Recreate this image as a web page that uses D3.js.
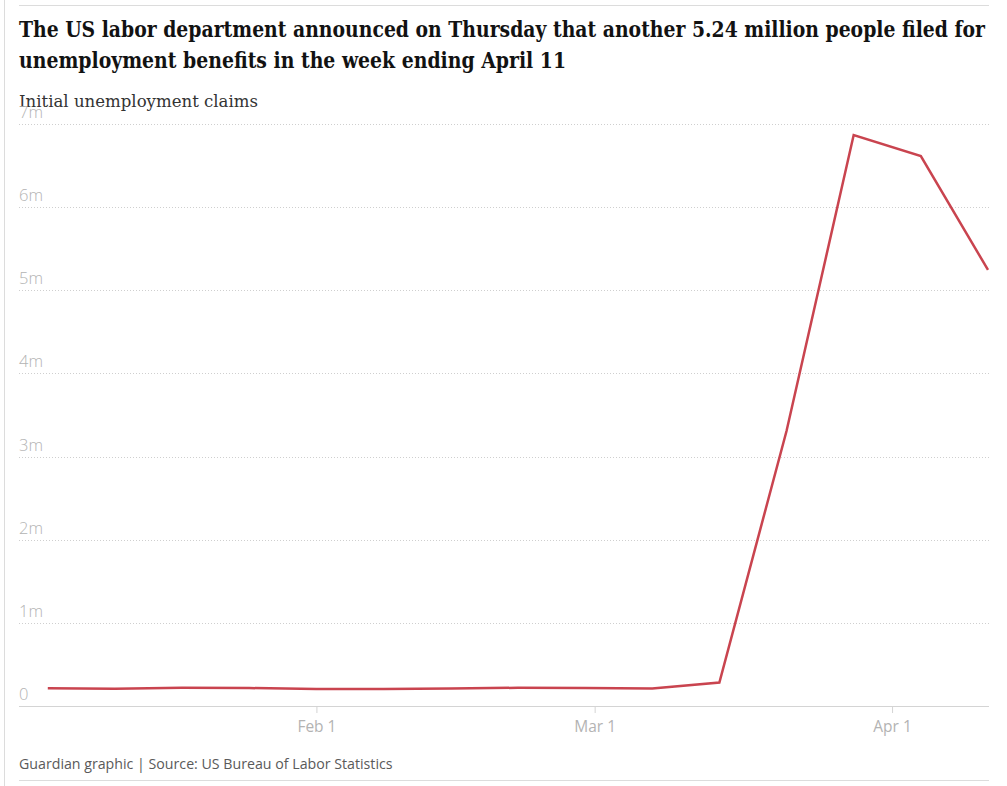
<!DOCTYPE html>
<html>
<head>
<meta charset="utf-8">
<script src="https://cdn.jsdelivr.net/npm/d3@7"></script>
<style>
  body { margin: 0; background: #fff; }
  svg { display: block; }
</style>
</head>
<body>
<div id="chart"></div>
<script>
// weekly initial claims, week ending dates (2020)
const weeks = ["2020-01-04", "2020-01-11", "2020-01-18", "2020-01-25", "2020-02-01", "2020-02-08",
  "2020-02-15", "2020-02-22", "2020-02-29", "2020-03-07", "2020-03-14", "2020-03-21",
  "2020-03-28", "2020-04-04", "2020-04-11"];
const claims = [212000, 207000, 220000, 216000, 203000, 205000, 211000, 219000, 217000,
  211000, 282000, 3307000, 6867000, 6615000, 5245000];
const yTicks = [0, 1e6, 2e6, 3e6, 4e6, 5e6, 6e6, 7e6];
const xTicks = ["2020-02-01", "2020-03-01", "2020-04-01"];

const titleLines = ["The US labor department announced on Thursday that another 5.24 million people filed for",
  "unemployment benefits in the week ending April 11"];
const subtitle = "Initial unemployment claims";
const source = "Guardian graphic | Source: US Bureau of Labor Statistics";

const width = 1007;
const height = 786;
const left = 19;
const right = 989;

const parse = d3.timeParse("%Y-%m-%d");
const data = weeks.map((w, i) => ({ date: parse(w), value: claims[i] }));

const x = d3.scaleTime()
  .domain([parse("2020-01-01"), parse("2020-04-11")])
  .range([left, right - 1]);

const y = d3.scaleLinear()
  .domain([0, 7e6])
  .range([706, 124]);

const svg = d3.select("#chart").append("svg")
  .attr("width", width)
  .attr("height", height);

// page frame lines
svg.append("line")
  .attr("x1", 4.5).attr("x2", 4.5).attr("y1", 0).attr("y2", height)
  .attr("stroke", "#dcdcdc");
svg.append("line")
  .attr("x1", left).attr("x2", right).attr("y1", 5.5).attr("y2", 5.5)
  .attr("stroke", "#dcdcdc");
svg.append("line")
  .attr("x1", left).attr("x2", right).attr("y1", 780.5).attr("y2", 780.5)
  .attr("stroke", "#dcdcdc");

// headline
svg.append("text")
  .attr("x", left)
  .attr("font-family", "'DejaVu Serif', serif")
  .attr("font-weight", "bold")
  .attr("font-size", 22)
  .attr("fill", "#121212")
  .selectAll("tspan")
  .data(titleLines)
  .join("tspan")
  .attr("x", left)
  .attr("y", (d, i) => 37 + i * 31)
  .attr("textLength", (d, i) => i === 0 ? 966 : 547)
  .attr("lengthAdjust", "spacingAndGlyphs")
  .text(d => d);

svg.append("text")
  .attr("x", left)
  .attr("y", 107)
  .attr("font-family", "'DejaVu Serif', serif")
  .attr("font-size", 16)
  .attr("fill", "#333")
  .attr("textLength", 239)
  .attr("lengthAdjust", "spacingAndGlyphs")
  .text(subtitle);

// y grid and labels
const yAxis = svg.append("g").attr("class", "yAxis");

yAxis.selectAll("line.grid")
  .data(yTicks)
  .join("line")
  .attr("class", "grid")
  .attr("x1", left)
  .attr("x2", right)
  .attr("y1", d => Math.round(y(d)) + 0.5)
  .attr("y2", d => Math.round(y(d)) + 0.5)
  .attr("stroke", d => d === 0 ? "#d4d4d4" : "#cfcfcf")
  .attr("stroke-dasharray", d => d === 0 ? null : "1,2");

yAxis.selectAll("text")
  .data(yTicks)
  .join("text")
  .attr("x", left)
  .attr("y", d => y(d) - 6)
  .attr("font-family", "'Open Sans', sans-serif")
  .attr("font-weight", 300)
  .attr("font-size", 16.5)
  .attr("fill", "#b3b3b3")
  .text(d => d === 0 ? "0" : `${d / 1e6}m`);

// x ticks
const xAxis = svg.append("g")
  .attr("transform", `translate(0,${Math.round(y(0))})`)
  .call(d3.axisBottom(x)
    .tickValues(xTicks.map(parse))
    .tickFormat(d3.timeFormat("%b %-d"))
    .tickSize(7)
    .tickPadding(8));

xAxis.select(".domain").remove();
xAxis.selectAll(".tick line").attr("stroke", "#d4d4d4");
xAxis.selectAll(".tick text")
  .attr("font-family", "'Open Sans', sans-serif")
  .attr("font-size", 15.5)
  .attr("fill", "#b3b3b3");

// line
const line = d3.line()
  .x(d => x(d.date))
  .y(d => y(d.value));

svg.append("path")
  .datum(data)
  .attr("d", line)
  .attr("fill", "none")
  .attr("stroke", "#c9444f")
  .attr("stroke-width", 2.5)
  .attr("stroke-linejoin", "miter");

// source
svg.append("text")
  .attr("x", left)
  .attr("y", 769)
  .attr("font-family", "'Open Sans', sans-serif")
  .attr("font-size", 14.2)
  .attr("fill", "#5a5a5a")
  .text(source);
</script>
</body>
</html>
